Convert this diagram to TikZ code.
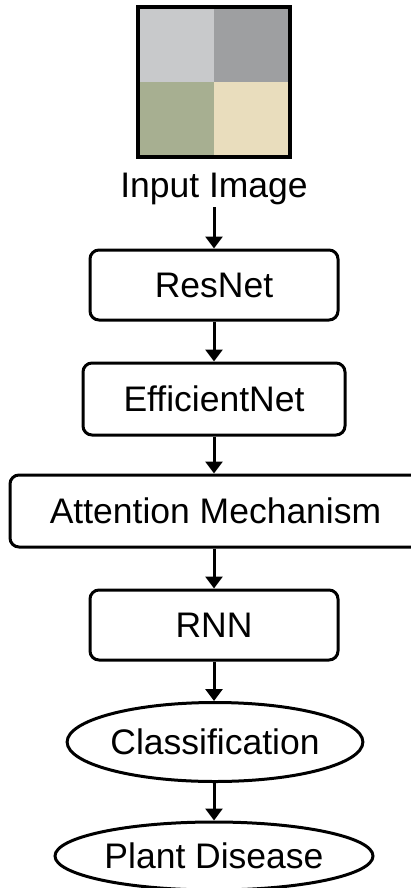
\documentclass[tikz,border=0pt]{standalone}
\usepackage{fontspec}
\setmainfont{Liberation Sans}
\usetikzlibrary{arrows.meta,shapes.geometric}
\definecolor{qTL}{HTML}{C8C9CB}
\definecolor{qTR}{HTML}{9E9FA1}
\definecolor{qBL}{HTML}{A7AF91}
\definecolor{qBR}{HTML}{E9DDBD}
\tikzset{
  lbl/.style={font=\fontsize{35.5}{40}\selectfont},
  stage/.style={lbl, draw, line width=3pt, rounded corners=9pt, inner sep=0pt},
  oval/.style={lbl, ellipse, draw, line width=3pt, inner sep=0pt},
  flow/.style={line width=3pt, -{Triangle[length=12pt,width=17pt]}},
}
\begin{document}
\begin{tikzpicture}[x=1pt,y=-1pt]
\useasboundingbox (0,0) rectangle (411,888);
% input image: four coloured quadrants in a thick frame
\fill[qTL] (138,7) rectangle (214,82);
\fill[qTR] (214,7) rectangle (290,82);
\fill[qBL] (138,82) rectangle (214,157);
\fill[qBR] (214,82) rectangle (290,157);
\node[draw, line width=4.5pt, minimum width=152pt, minimum height=150pt, inner sep=0pt] (img) at (214,82) {};
\node[lbl, inner sep=2pt] (inlbl) at (214,189) {Input Image};

\node[stage, minimum width=248pt, minimum height=70pt] (res) at (214,285) {ResNet};
\node[stage, minimum width=262pt, minimum height=72pt] (eff) at (214,399) {EfficientNet};
\node[stage, minimum width=411pt, minimum height=72pt] (att) at (215.5,511) {Attention Mechanism};
\node[stage, minimum width=248pt, minimum height=70pt] (rnn) at (214,625) {RNN};
\node[oval, minimum width=276pt, minimum height=79pt] (cls) at (215,742) {Classification};
\node[oval, minimum width=318pt, minimum height=68pt] (pd) at (214,856) {Plant Disease};

\draw[flow] (inlbl.south) -- (res.north);
\draw[flow] (res.south) -- (eff.north);
\draw[flow] (eff.south) -- (eff.south |- att.north);
\draw[flow] (att.south -| rnn.north) -- (rnn.north);
\draw[flow] (rnn.south) -- (rnn.south |- cls.north);
\draw[flow] (cls.south -| pd.north) -- (pd.north);
\end{tikzpicture}
\end{document}
